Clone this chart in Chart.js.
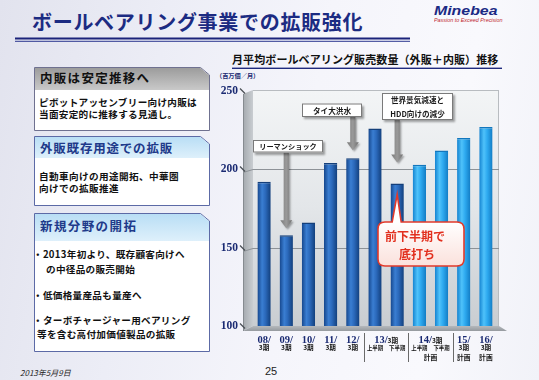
<!DOCTYPE html>
<html><head><meta charset="utf-8">
<script src="https://cdn.jsdelivr.net/npm/chart.js@4.4.1/dist/chart.umd.min.js"></script>
<style>
html,body{margin:0;padding:0;background:#fff;}
#page{position:relative;width:539px;height:380px;overflow:hidden;
 background:linear-gradient(100deg,#e2e3ee 0%,#ecedf6 28%,#f5f5fb 55%,#f9f9fd 80%,#f1f2f8 100%);}
.t{position:absolute;white-space:nowrap;font-family:"Noto Sans CJK JP","Noto Sans",sans-serif;line-height:1;}
svg{position:absolute;left:0;top:0;}
canvas{position:absolute;left:0;top:0;}
</style></head><body>
<div id="page">
<svg width="539" height="380">
 <defs>
  <linearGradient id="gGray" x1="0" y1="0" x2="0" y2="1"><stop offset="0" stop-color="#9c9c9c"/><stop offset="1" stop-color="#c9c9c9"/></linearGradient>
  <linearGradient id="gBlue" x1="0" y1="0" x2="0" y2="1"><stop offset="0" stop-color="#b9def5"/><stop offset="1" stop-color="#def0fb"/></linearGradient>
 </defs>
 <rect x="15" y="37.5" width="395" height="2" fill="#1b237a"/>
 <rect x="15" y="40.8" width="395" height="1" fill="#2c3790"/>
 <rect x="232" y="67.6" width="270" height="1.4" fill="#1f2a7e"/>
 <polygon points="34.5,67.5 200.5,67.5 209.5,75 209.5,130.5 34.5,130.5" fill="#fff" stroke="#6f7190" stroke-width="1"/>
 <polygon points="35,68 200.3,68 209,75.2 209,90 35,90" fill="url(#gGray)"/>
 <polygon points="34.5,136.5 200.5,136.5 209.5,144 209.5,205.5 34.5,205.5" fill="#fff" stroke="#5c6aa6" stroke-width="1"/>
 <polygon points="35,137 200.3,137 209,144.2 209,158 35,158" fill="url(#gBlue)"/>
 <polygon points="34.5,213.5 200.5,213.5 209.5,221 209.5,351.5 34.5,351.5" fill="#fff" stroke="#5c6aa6" stroke-width="1"/>
 <polygon points="35,214 200.3,214 209,221.2 209,241 35,241" fill="url(#gBlue)"/>
</svg>

<div class="t" style="left:32px;top:12px;font-size:20px;font-weight:bold;color:#1c2b82;letter-spacing:0.7px;">ボールベアリング事業での拡販強化</div>
<div class="t" style="left:434px;top:4px;font-family:'Liberation Sans',Arial,sans-serif;font-size:13px;font-weight:bold;font-style:italic;color:#1b2a84;transform:scaleX(1.22);transform-origin:left top;">Minebea</div>
<div class="t" style="left:434px;top:18px;font-family:'Liberation Sans',Arial,sans-serif;font-size:5px;font-style:italic;color:#c1272d;transform:scaleX(1.08);transform-origin:left top;">Passion to Exceed Precision</div>

<div class="t" style="left:40px;top:72px;font-size:12.5px;font-weight:bold;color:#111;letter-spacing:1.3px;">内販は安定推移へ</div>
<div class="t" style="left:39px;top:98px;font-size:9.6px;font-weight:bold;color:#111;letter-spacing:0.3px;">ピボットアッセンブリー向け内販は</div>
<div class="t" style="left:39px;top:110px;font-size:9.6px;font-weight:bold;color:#111;letter-spacing:0.3px;">当面安定的に推移する見通し。</div>

<div class="t" style="left:40px;top:142px;font-size:12.5px;font-weight:bold;color:#1e3a8a;letter-spacing:0.8px;">外販既存用途での拡販</div>
<div class="t" style="left:39px;top:172px;font-size:9.6px;font-weight:bold;color:#111;letter-spacing:0.4px;">自動車向けの用途開拓、中華圏</div>
<div class="t" style="left:39px;top:184px;font-size:9.6px;font-weight:bold;color:#111;letter-spacing:0.4px;">向けでの拡販推進</div>

<div class="t" style="left:40px;top:220px;font-size:12.5px;font-weight:bold;color:#1e3a8a;letter-spacing:1.4px;">新規分野の開拓</div>
<div class="t" style="left:33px;top:250px;font-size:9.6px;font-weight:bold;color:#111;letter-spacing:0.3px;">・2013年初より、既存顧客向けへ</div>
<div class="t" style="left:46px;top:264.5px;font-size:9.6px;font-weight:bold;color:#111;letter-spacing:0.3px;">の中径品の販売開始</div>
<div class="t" style="left:33px;top:291px;font-size:9.6px;font-weight:bold;color:#111;letter-spacing:0.3px;">・低価格量産品も量産へ</div>
<div class="t" style="left:33px;top:315.5px;font-size:9.6px;font-weight:bold;color:#111;letter-spacing:0.3px;">・ターボチャージャー用ベアリング</div>
<div class="t" style="left:37px;top:330px;font-size:9.6px;font-weight:bold;color:#111;letter-spacing:0.3px;">等を含む高付加価値製品の拡販</div>

<div class="t" style="left:232px;top:54px;font-size:11px;font-weight:bold;color:#111;letter-spacing:0.1px;">月平均ボールベアリング販売数量（外販＋内販）推移</div>
<div class="t" style="left:216px;top:72.5px;font-size:6.2px;font-weight:bold;color:#1a2a72;">（百万個／月）</div>

<div class="t" style="left:20px;top:368.5px;font-size:8px;font-style:italic;color:#222;">2013年5月9日</div>
<div class="t" style="left:265px;top:366px;font-family:'Liberation Sans',Arial,sans-serif;font-size:11px;color:#222;">25</div>

<canvas id="c" width="539" height="380"></canvas>
</div>
<script>
// ---- data ----
const categories = ['08/3期','09/3期','10/3期','11/3期','12/3期','13/3期 上半期','13/3期 下半期','14/3期 上半期 計画','14/3期 下半期 計画','15/3期 計画','16/3期 計画'];
const volumes = [192, 158, 166, 204, 207, 226, 191, 203, 212, 220, 227];
const isPlan = [false, false, false, false, false, false, false, true, true, true, true];
const yTicks = [100, 150, 200, 250];
const mainLabels = ['08/','09/','10/','11/','12/','','','','','15/','16/'];
const subLabels = ['3期','3期','3期','3期','3期','上半期','下半期','上半期','下半期','3期','3期'];
const planLabels = ['','','','','','','','','','計画','計画'];
const groupYears = ['13/','14/'];
const groupTerms = ['3期','3期'];
const groupPlans = ['','計画'];
const groupFrom = [5, 7];
const groupTo = [6, 8];
const separatorsAfter = [4, 6, 8];
const eventTexts = [['リーマンショック'], ['タイ大洪水'], ['世界景気減速と','HDD向けの減少']];
const eventBars = [1, 4, 6];
const calloutText = ['前下半期で','底打ち'];
const calloutBar = 6;

const JP = '"Noto Sans CJK JP","Noto Sans",sans-serif';

function barGradient(ctx, x, w, plan){
  const g = ctx.createLinearGradient(x - w/2, 0, x + w/2, 0);
  if(plan){
    g.addColorStop(0, '#1382d0'); g.addColorStop(0.35, '#4fc2fa');
    g.addColorStop(0.6, '#2eaaf0'); g.addColorStop(1, '#127cc4');
  } else {
    g.addColorStop(0, '#15468c'); g.addColorStop(0.35, '#3a7ed2');
    g.addColorStop(0.6, '#2b69bb'); g.addColorStop(1, '#123f7c');
  }
  return g;
}

const wallPlugin = {
  id:'wall',
  beforeDraw(chart){
    const {ctx, chartArea:ca} = chart; const ys = chart.scales.y;
    const L = ca.left, R = ca.right + 2, T = ca.top - 1, B = ca.bottom;
    ctx.save();
    let g = ctx.createLinearGradient(L-10,0,L,0);
    g.addColorStop(0,'#a4a9ae'); g.addColorStop(1,'#c9cdd1');
    ctx.beginPath(); ctx.moveTo(L-10,T+4); ctx.lineTo(L,T); ctx.lineTo(L,B); ctx.lineTo(L-10,B+5); ctx.closePath();
    ctx.fillStyle = g; ctx.fill();
    g = ctx.createLinearGradient(0,T,0,B);
    g.addColorStop(0,'#f3f5f6'); g.addColorStop(0.5,'#e3e6e9'); g.addColorStop(1,'#c9cdd1');
    ctx.fillStyle = g; ctx.fillRect(L,T,R-L,B-T);
    ctx.strokeStyle = '#b8bcc0'; ctx.lineWidth = 1;
    ctx.beginPath(); ctx.moveTo(L,T+0.5); ctx.lineTo(R,T+0.5); ctx.moveTo(R-0.5,T); ctx.lineTo(R-0.5,B); ctx.stroke();
    g = ctx.createLinearGradient(0,B,0,B+6);
    g.addColorStop(0,'#b4b8bc'); g.addColorStop(1,'#8f9499');
    ctx.beginPath(); ctx.moveTo(L-10,B+5); ctx.lineTo(L,B); ctx.lineTo(R,B); ctx.lineTo(R+8,B+5); ctx.closePath();
    ctx.fillStyle = g; ctx.fill();
    ctx.strokeStyle = '#868b90'; ctx.lineWidth = 1;
    ctx.beginPath(); ctx.moveTo(L-9.5,T+4); ctx.lineTo(L-9.5,B+5); ctx.stroke();
    yTicks.forEach(v=>{
      const py = Math.round(ys.getPixelForValue(v)) + 0.5;
      if(v > ys.min && v < ys.max){
        ctx.strokeStyle = '#8d9297'; ctx.lineWidth = 1;
        ctx.beginPath(); ctx.moveTo(L-10,py+3); ctx.lineTo(L,py); ctx.lineTo(R,py); ctx.stroke();
      }
      ctx.strokeStyle = '#4a4f55'; ctx.lineWidth = 1.2;
      ctx.beginPath(); ctx.moveTo(L-13,py-3); ctx.lineTo(L-8,py+2); ctx.stroke();
    });
    ctx.restore();
  }
};

function drawArrow(ctx, x, y0, y1){
  const sw = 2.6, hw = 6, hh = 8;
  ctx.save();
  ctx.shadowColor = 'rgba(0,0,0,0.35)'; ctx.shadowOffsetX = 1.5; ctx.shadowOffsetY = 1.5; ctx.shadowBlur = 2;
  const g = ctx.createLinearGradient(x-hw,0,x+hw,0);
  g.addColorStop(0,'#7a7a7a'); g.addColorStop(0.5,'#9a9a9a'); g.addColorStop(1,'#6f6f6f');
  ctx.fillStyle = g;
  ctx.beginPath(); ctx.moveTo(x-sw,y0); ctx.lineTo(x-sw,y1-hh); ctx.lineTo(x-hw,y1-hh); ctx.lineTo(x,y1);
  ctx.lineTo(x+hw,y1-hh); ctx.lineTo(x+sw,y1-hh); ctx.lineTo(x+sw,y0); ctx.closePath(); ctx.fill();
  ctx.restore();
}

function drawBox(ctx, x, y, w, h, lines, size){
  ctx.save();
  ctx.shadowColor = 'rgba(0,0,0,0.35)'; ctx.shadowOffsetX = 2; ctx.shadowOffsetY = 2; ctx.shadowBlur = 2;
  ctx.fillStyle = '#ffffff'; ctx.fillRect(x,y,w,h);
  ctx.restore();
  ctx.save();
  ctx.strokeStyle = '#7a7a7a'; ctx.lineWidth = 1; ctx.strokeRect(x+0.5,y+0.5,w-1,h-1);
  ctx.fillStyle = '#1a1a1a'; ctx.font = 'bold '+size+'px '+JP; ctx.textAlign='center'; ctx.textBaseline='middle';
  const lh = h / lines.length;
  lines.forEach((s,i)=> ctx.fillText(s, x+w/2, y + lh*(i+0.5) + 0.5));
  ctx.restore();
}

const labelPlugin = {
  id:'labels',
  afterDraw(chart){
    const {ctx} = chart; const xs = chart.scales.x;
    const meta = chart.getDatasetMeta(0);
    ctx.save();
    ctx.textAlign = 'center'; ctx.textBaseline = 'alphabetic';
    categories.forEach((c,i)=>{
      const px = xs.getPixelForValue(i);
      if(mainLabels[i]){ ctx.font = 'bold 10.5px "Liberation Serif",serif'; ctx.fillStyle = '#1a2a72'; ctx.fillText(mainLabels[i], px, 342.5); }
      if(subLabels[i]){
        const small = subLabels[i].length > 2;
        ctx.font = 'bold ' + (small ? 5.4 : 6.6) + 'px ' + JP; ctx.fillStyle = '#111';
        ctx.fillText(subLabels[i], px, 349.5);
      }
      if(planLabels[i]){ ctx.font = 'bold 6.8px ' + JP; ctx.fillStyle = '#111'; ctx.fillText(planLabels[i], px, 360); }
    });
    groupYears.forEach((yr,k)=>{
      const px = (xs.getPixelForValue(groupFrom[k]) + xs.getPixelForValue(groupTo[k])) / 2;
      ctx.font = 'bold 10.5px "Liberation Serif",serif'; const w1 = ctx.measureText(yr).width;
      ctx.font = 'bold 6.6px ' + JP; const w2 = ctx.measureText(groupTerms[k]).width;
      const x0 = px - (w1 + w2) / 2;
      ctx.textAlign = 'left';
      ctx.font = 'bold 10.5px "Liberation Serif",serif'; ctx.fillStyle = '#1a2a72'; ctx.fillText(yr, x0, 342.5);
      ctx.font = 'bold 6.6px ' + JP; ctx.fillStyle = '#111'; ctx.fillText(groupTerms[k], x0 + w1, 342.5);
      ctx.textAlign = 'center';
      if(groupPlans[k]){ ctx.font = 'bold 6.8px ' + JP; ctx.fillText(groupPlans[k], px, 360); }
    });
    ctx.strokeStyle = '#6a6a6a'; ctx.lineWidth = 1;
    separatorsAfter.forEach(i=>{
      const sx = Math.round((xs.getPixelForValue(i) + xs.getPixelForValue(i+1)) / 2) + 0.5;
      ctx.beginPath(); ctx.moveTo(sx, 333); ctx.lineTo(sx, 362); ctx.stroke();
    });
    ctx.restore();

    const boxes = [{x:253,y:140,w:70,h:12.5,s:7.2},{x:302,y:103.5,w:60,h:13.5,s:7.6},{x:382,y:93,w:71,h:27,s:7.6}];
    const gaps = [7, 8, 21];
    eventTexts.forEach((lines,k)=>{
      const el = meta.data[eventBars[k]];
      const b = boxes[k];
      drawArrow(ctx, el.x, b.y + b.h, el.y - gaps[k]);
      drawBox(ctx, b.x, b.y, b.w, b.h, lines, b.s);
    });

    const el = meta.data[calloutBar];
    const cx = 378, cy = 222, cw = 86, ch = 44, tipY = el.y + 11;
    ctx.save();
    ctx.beginPath();
    ctx.moveTo(cx+7, cy); ctx.lineTo(el.x-5, cy); ctx.lineTo(el.x, tipY); ctx.lineTo(el.x+4, cy);
    ctx.lineTo(cx+cw-7, cy); ctx.quadraticCurveTo(cx+cw,cy,cx+cw,cy+7);
    ctx.lineTo(cx+cw, cy+ch-7); ctx.quadraticCurveTo(cx+cw,cy+ch,cx+cw-7,cy+ch);
    ctx.lineTo(cx+7, cy+ch); ctx.quadraticCurveTo(cx,cy+ch,cx,cy+ch-7);
    ctx.lineTo(cx, cy+7); ctx.quadraticCurveTo(cx,cy,cx+7,cy); ctx.closePath();
    const g = ctx.createLinearGradient(0,cy,0,cy+ch);
    g.addColorStop(0,'#ffffff'); g.addColorStop(1,'#fbe1dc');
    ctx.fillStyle = g; ctx.fill();
    ctx.strokeStyle = '#e23a2b'; ctx.lineWidth = 1.6; ctx.stroke();
    ctx.fillStyle = '#e2301f'; ctx.font = 'bold 12px ' + JP; ctx.textAlign = 'center'; ctx.textBaseline = 'middle';
    ctx.fillText(calloutText[0], cx + cw/2 - 6, cy + 14);
    ctx.fillText(calloutText[1], cx + cw/2 - 4, cy + 32);
    ctx.restore();
  }
};

new Chart(document.getElementById('c'), {
  type:'bar',
  data:{
    labels: categories,
    datasets:[{
      label:'月平均販売数量',
      data: volumes,
      backgroundColor: (c)=>{
        const ch = c.chart, xs = ch.scales && ch.scales.x;
        const solid = (c.dataIndex !== undefined && isPlan[c.dataIndex]) ? '#2aa8ee' : '#2462b3';
        if(!xs || c.dataIndex === undefined) return solid;
        const w = xs.width / categories.length * 0.6;
        const x = xs.getPixelForValue(c.dataIndex);
        if(!isFinite(x) || !isFinite(w) || w <= 0) return solid;
        return barGradient(ch.ctx, x, w, isPlan[c.dataIndex]);
      },
      borderColor: (c)=> (c.dataIndex !== undefined && isPlan[c.dataIndex]) ? '#1277bd' : '#143f7a',
      borderWidth: {top:1.5, left:0, right:0, bottom:0},
      borderSkipped: 'bottom',
      barPercentage: 0.6,
      categoryPercentage: 1.0
    }]
  },
  options:{
    responsive:false, animation:false, devicePixelRatio:1,
    layout:{padding:{left:200, top:91, right:42, bottom:54}},
    plugins:{legend:{display:false}, tooltip:{enabled:false}, title:{display:false}},
    scales:{
      x:{display:false, offset:true},
      y:{
        min:100, max:250,
        afterFit(s){ s.width = 53; },
        afterBuildTicks(s){ s.ticks = yTicks.map(v=>({value:v})); },
        grid:{display:false, drawTicks:false},
        border:{display:false},
        ticks:{padding:15, color:'#1a2a72', font:{family:'"Liberation Serif",serif', size:11.5, weight:'bold'}}
      }
    }
  },
  plugins:[wallPlugin, labelPlugin]
});
</script>
</body></html>
